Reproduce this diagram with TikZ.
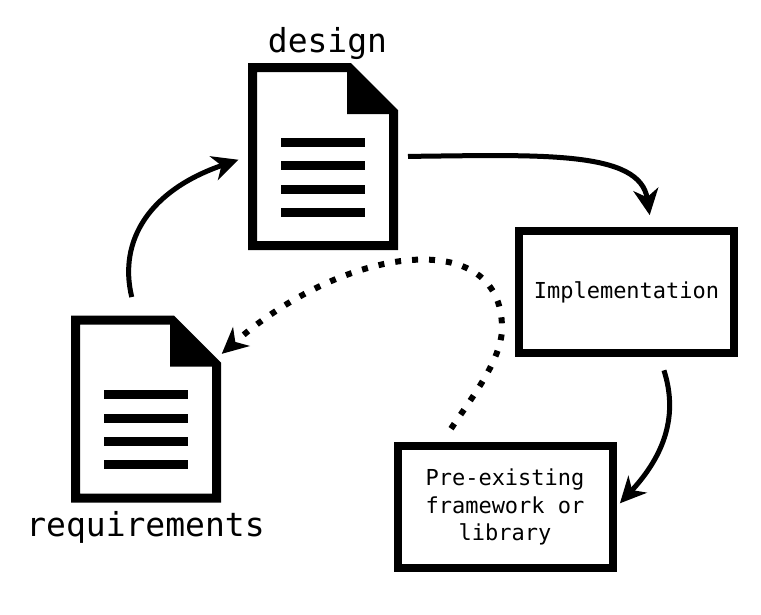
\documentclass[tikz,border=0pt]{standalone}
\usepackage{fontspec}
\setmonofont{DejaVu Sans Mono}
\usetikzlibrary{arrows.meta}
\tikzset{
	box/.style={draw, line width=8pt, minimum width=215pt, minimum height=122pt, align=center, font=\ttfamily\fontsize{22}{27.5}\selectfont},
	doc/.style={minimum width=150pt, minimum height=187pt, inner sep=0, outer sep=0},
	title/.style={anchor=base, inner sep=0, font=\ttfamily\fontsize{33}{40}\selectfont},
	flow/.style={line width=5pt, -{Stealth[length=26pt, width=25pt, inset=8pt]}},
	back/.style={flow, line width=6pt, dash pattern=on 6pt off 11pt},
}
\newcommand{\docicon}[1]{
	\fill[even odd rule] (#1.north west) ++(0,0) -- ++(103,0) -- ++(47,47) -- ++(0,140) -- ++(-150,0) -- cycle
		(#1.north west) ++(9,9) -- ++(90,0) -- ++(0,42) -- ++(42,0) -- ++(0,127) -- ++(-132,0) -- cycle;
	\foreach \y in {79,102.5,126,149}
		\fill (#1.north west) ++(33,\y-4.5) rectangle ++(84,9);
}
\begin{document}
\begin{tikzpicture}[x=1pt, y=-1pt]
	\useasboundingbox (0,0) rectangle (761,614);
	\node[doc] at (323,156.5) (design) {};
	\node[doc] at (146,409) (req) {};
	\docicon{design}
	\docicon{req}
	\node[title] at (327.5,52) (designlabel) {design};
	\node[title] at (145.5,536) (reqlabel) {requirements};
	\node[box] at (626.5,292) (impl) {Implementation};
	\node[box] at (505,507) (lib) {Pre-existing\\framework or\\library};
	\draw[flow, shorten <=10pt, shorten >=12pt] (design.east) .. controls (540,155) and (640,150) .. (impl.69);
	\draw[flow, shorten <=19pt, shorten >=10pt] (req.96) .. controls (118,240) and (150,190) .. (design.west);
	\draw[flow, shorten <=14pt, shorten >=5pt] (impl.-63) .. controls (680,420) and (660,460) .. (lib.east);
	\coordinate (bend) at (502,328);
	\draw[back, shorten <=16pt, shorten >=1pt] (lib.134) .. controls (470,400) and (502,360) .. (bend) .. controls (502,225) and (345,245) .. (req.36);
\end{tikzpicture}
\end{document}
